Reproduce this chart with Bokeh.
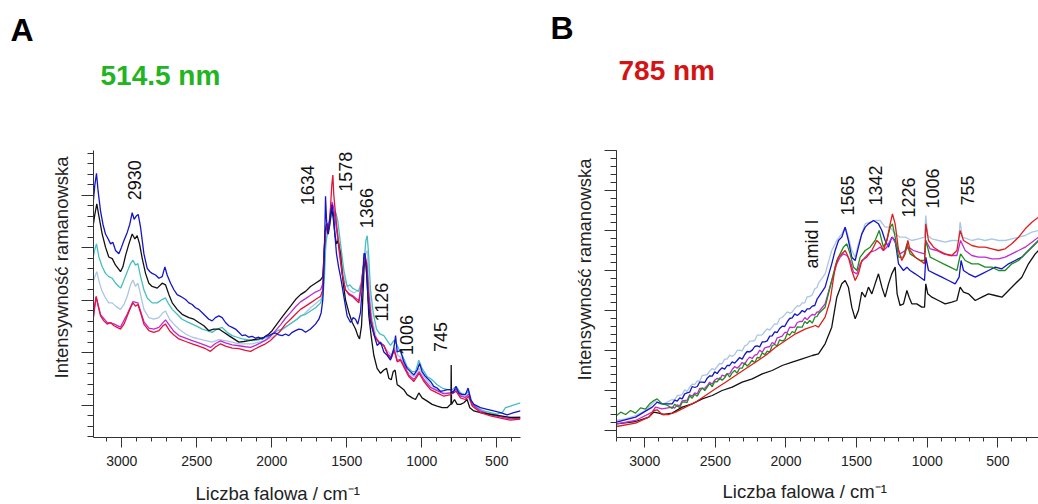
import math
from bokeh.plotting import figure
from bokeh.layouts import row, column
from bokeh.models import Range1d, FixedTicker, Label, Title
from bokeh.embed import file_html
from bokeh.resources import INLINE

FONT = "Liberation Sans"

# ---------------- Panel A (514.5 nm) ----------------
a_blue_wn = [3193,3180,3169,3158,3142,3126,3109,3091,3075,3060,3042,3020,3002,2986,2964,2947,2931,2918,2904,2891,2875,2853,2831,2813,2798,2775,2753,2731,2713,2698,2675,2653,2631,2609,2575,2553,2531,2509,2487,2464,2442,2420,2398,2376,2353,2331,2309,2287,2264,2242,2220,2198,2176,2153,2131,2109,2087,2064,2042,2020,1998,1975,1953,1931,1909,1887,1864,1842,1820,1798,1775,1742,1709,1686,1671,1660,1653,1646,1642,1635,1626,1618,1609,1598,1587,1578,1569,1555,1542,1520,1498,1475,1458,1442,1427,1409,1395,1386,1378,1369,1358,1342,1320,1298,1275,1253,1231,1209,1187,1175,1164,1142,1120,1098,1076,1053,1031,1015,998,975,942,920,898,876,853,831,809,791,773,753,731,709,691,675,653,609,564,520,475,431,387,342]
a_blue_int = [767,832,867,812,752,712,682,667,652,657,632,622,642,662,687,712,747,727,737,742,702,622,577,567,562,557,547,552,582,557,532,512,497,492,482,472,467,457,452,442,432,422,417,427,432,427,412,402,397,392,382,372,374,367,370,364,367,362,370,372,377,380,374,372,377,372,382,387,392,390,382,392,407,422,442,482,572,702,797,722,682,712,742,772,732,672,622,582,552,492,432,412,427,422,407,442,532,622,622,572,482,412,377,342,352,322,312,297,332,372,322,327,292,272,262,252,267,287,262,247,232,217,212,202,204,207,207,197,217,197,192,192,212,177,162,152,147,142,137,130,137,142]

a_black_wn = [3193,3180,3167,3153,3131,3109,3087,3064,3042,3020,3009,2993,2975,2953,2931,2913,2898,2882,2864,2842,2820,2798,2764,2731,2709,2686,2664,2631,2598,2553,2520,2487,2453,2420,2387,2353,2320,2287,2253,2220,2187,2153,2120,2087,2053,2020,1998,1975,1942,1909,1875,1842,1809,1775,1742,1709,1675,1660,1651,1644,1635,1624,1613,1602,1591,1580,1569,1558,1542,1524,1509,1486,1464,1442,1427,1415,1402,1391,1382,1373,1364,1353,1338,1320,1298,1275,1253,1235,1220,1204,1191,1178,1164,1147,1120,1098,1064,1042,1020,998,964,931,898,864,831,809,806,804,802,782,764,742,720,698,680,653,609,542,475,409,342]
a_black_int = [702,742,774,737,682,642,612,607,587,574,567,582,617,652,682,667,677,652,607,562,532,522,517,532,527,497,472,452,437,427,422,412,402,387,392,392,382,372,362,352,354,357,360,362,367,377,387,402,422,442,462,482,497,507,522,532,542,552,622,692,712,682,712,762,732,682,652,662,622,532,482,442,412,392,372,362,402,512,612,592,532,432,372,312,272,257,267,272,242,237,262,267,222,217,207,192,182,177,197,182,172,162,157,152,152,162,162,282,162,177,162,162,167,177,152,142,137,132,127,122,122]

a_teal_wn = [3193,3182,3169,3153,3131,3109,3087,3064,3042,3020,3007,2986,2964,2942,2926,2909,2893,2875,2853,2831,2798,2764,2731,2709,2686,2664,2631,2598,2564,2531,2498,2464,2431,2398,2364,2331,2298,2264,2231,2198,2164,2131,2098,2064,2031,1998,1964,1931,1898,1864,1831,1809,1775,1742,1709,1675,1658,1649,1640,1626,1613,1598,1587,1573,1560,1542,1520,1498,1480,1462,1442,1420,1404,1386,1373,1364,1355,1342,1324,1302,1280,1253,1231,1209,1187,1169,1149,1120,1098,1064,1042,1020,998,964,931,898,864,831,798,771,742,709,687,664,631,587,542,498,464,442,409,375,342]
a_teal_int = [607,632,652,612,582,562,552,547,532,522,517,542,567,592,602,587,592,552,512,487,472,472,482,487,467,452,437,422,414,407,400,392,387,382,392,397,382,372,367,362,360,357,358,362,367,377,387,392,402,412,422,432,437,447,457,472,497,552,652,692,722,752,737,747,722,652,572,522,527,517,512,507,532,592,662,677,622,512,442,392,377,372,357,342,357,347,327,302,277,262,262,297,272,247,237,222,212,207,207,217,197,192,202,167,152,142,137,132,137,152,157,162,167]

a_lblue_wn = [3193,3180,3167,3149,3131,3109,3087,3064,3042,3009,2986,2964,2942,2926,2909,2893,2875,2853,2820,2787,2753,2726,2709,2682,2653,2620,2575,2531,2487,2442,2398,2353,2309,2264,2220,2176,2131,2087,2042,1998,1953,1909,1864,1820,1787,1742,1675,1658,1647,1631,1609,1593,1578,1560,1538,1515,1486,1453,1420,1398,1375,1364,1351,1331,1302,1264,1231,1204,1182,1160,1131,1098,1053,1018,986,942,898,853,809,771,742,698,664,609,542,475,409,342]
a_lblue_int = [532,552,567,532,507,487,472,472,462,452,467,492,527,542,522,532,497,452,427,422,427,442,447,422,407,392,377,367,362,357,352,360,357,352,347,347,347,352,357,367,382,397,412,427,437,457,482,502,622,692,722,752,722,682,602,542,512,502,512,542,622,632,522,422,362,347,327,312,337,312,302,262,247,272,247,222,207,197,197,207,187,187,162,142,132,127,122,124]

a_mag_wn = [3193,3171,3142,3098,3053,3009,2964,2926,2893,2853,2820,2787,2753,2709,2653,2620,2575,2531,2487,2442,2409,2376,2342,2309,2264,2220,2176,2142,2109,2075,2042,2009,1975,1942,1909,1875,1842,1809,1775,1742,1709,1675,1660,1651,1642,1631,1620,1609,1598,1587,1575,1564,1549,1531,1509,1486,1464,1442,1420,1404,1391,1378,1367,1355,1338,1315,1286,1253,1226,1204,1184,1164,1142,1115,1087,1053,1018,986,942,898,853,809,771,742,709,687,664,609,542,475,409,342]
a_mag_int = [418,490,436,412,408,398,438,476,472,415,395,392,397,420,385,372,364,357,350,342,336,348,356,350,344,341,338,336,342,350,358,370,387,405,425,442,460,475,485,495,505,512,530,640,690,715,705,745,780,760,720,680,620,560,512,500,495,487,478,522,575,600,585,500,420,370,350,342,315,306,330,296,300,278,252,238,262,238,214,204,194,197,208,188,183,194,162,142,130,124,118,120]

a_red_wn = [3193,3182,3171,3158,3142,3120,3098,3075,3053,3031,3009,2986,2964,2942,2926,2909,2893,2875,2853,2820,2787,2753,2726,2709,2682,2653,2620,2575,2531,2487,2442,2409,2376,2342,2309,2264,2220,2176,2142,2109,2075,2042,2009,1975,1942,1909,1875,1842,1809,1775,1742,1709,1675,1660,1651,1642,1631,1620,1609,1600,1593,1587,1575,1564,1549,1531,1509,1486,1464,1442,1420,1404,1391,1378,1367,1355,1338,1315,1286,1253,1226,1204,1184,1164,1142,1115,1087,1053,1018,986,942,898,853,809,771,742,709,687,664,609,542,475,409,342]
a_red_int = [412,462,492,462,432,417,407,412,402,397,392,407,432,457,472,462,467,442,407,387,382,387,402,407,387,374,362,354,347,340,332,324,337,347,340,334,332,327,324,332,340,347,357,372,387,407,422,437,452,462,472,482,492,512,622,682,712,702,762,832,862,802,742,692,632,562,512,497,492,482,472,522,582,612,592,502,422,372,352,342,312,302,327,292,297,272,247,232,257,232,207,197,187,192,202,182,177,187,157,137,127,120,114,117]

a_peak_text = ["2930", "1634", "1578", "1366", "1126", "1006", "745"]
a_peak_wn = [2915, 1759, 1512, 1369, 1272, 1102, 875]
a_peak_int = [785, 770, 811, 700, 415, 313, 322]

# ---------------- Panel B (785 nm) ----------------
# shared wavenumbers of the noisy rising part (2806 -> 1770 cm-1)
b_mid_wn = [2806,2788,2770,2752,2735,2717,2700,2682,2664,2646,2628,2611,2593,2575,2558,2540,2522,2505,2487,2470,2452,2434,2417,2399,2381,2363,2346,2328,2310,2292,2275,2257,2239,2221,2204,2186,2168,2150,2133,2115,2098,2080,2062,2045,2027,2009,1991,1974,1956,1938,1920,1903,1885,1867,1850,1832,1814,1796,1780,1770]

b_lblue_head_wn = [3200,3136,3065,2995,2947,2924,2900,2865]
b_lblue_head_int = [150,155,165,180,200,210,200,200]
b_lblue_mid_int = [213,211,225,225,228,242,237,250,259,258,269,268,285,286,288,298,306,302,312,321,320,334,334,346,342,348,360,361,359,374,377,388,388,390,406,406,407,417,425,421,430,440,439,456,459,467,476,472,475,486,494,493,503,503,521,522,527,545,549,562]
b_lblue_tail_wn = [1723,1676,1640,1605,1581,1558,1534,1510,1487,1463,1439,1404,1369,1333,1298,1262,1227,1192,1156,1109,1062,1019,1010,996,967,920,873,826,778,767,750,684,637,590,542,495,448,401,353,306,259,212]
b_lblue_tail_int = [590,660,690,710,730,700,660,640,680,710,740,745,750,750,730,730,710,700,700,690,695,700,765,705,695,690,685,690,690,745,700,690,695,690,695,690,690,695,700,705,715,720]

b_blue_head_wn = [3200,3065,2947,2912,2877]
b_blue_head_int = [145,160,190,205,200]
b_blue_mid_int = [200,211,208,218,215,230,233,235,252,249,252,265,265,264,277,284,283,296,291,301,308,304,315,315,326,322,330,339,334,348,357,356,361,372,374,371,386,386,389,403,404,416,414,426,433,432,446,456,458,470,465,471,480,475,485,485,493,495,514,520]
b_blue_tail_wn = [1723,1676,1652,1628,1605,1581,1558,1534,1510,1487,1463,1439,1416,1380,1345,1321,1298,1274,1251,1227,1203,1168,1144,1121,1085,1050,1019,1010,991,944,896,849,802,774,760,743,708,660,613,566,519,471,424,377,330,283,235,212]
b_blue_tail_int = [550,620,660,690,700,730,690,640,630,670,710,730,740,750,740,720,690,670,700,690,620,600,610,600,590,580,570,640,600,590,580,570,560,580,630,600,590,580,590,600,610,605,620,630,640,660,680,690]

b_green_head_wn = [3200,3170,3136,3100,3065,3030,2995,2965,2936,2912,2877,2840]
b_green_head_int = [165,175,168,180,172,188,184,200,210,215,200,196]
b_green_mid_int = [186,199,193,189,205,206,204,224,217,229,223,237,248,240,250,261,251,267,266,278,271,278,291,280,293,300,292,307,307,323,313,321,331,323,339,338,353,347,358,355,375,378,374,392,389,392,411,406,417,413,431,430,430,447,441,450,442,460,462,470]
b_green_tail_wn = [1723,1676,1640,1617,1593,1569,1546,1522,1498,1475,1439,1404,1369,1340,1310,1286,1262,1246,1227,1203,1168,1144,1121,1085,1050,1019,1010,979,932,885,837,790,764,731,684,637,590,542,495,448,401,353,306,259,212]
b_green_tail_int = [490,570,630,650,670,680,650,610,600,640,660,670,690,720,670,690,730,740,700,640,640,680,650,640,630,630,690,640,630,620,610,600,650,630,620,620,610,610,600,600,620,630,650,670,690]

b_mag_head_wn = [3200,3065,2947,2924,2877]
b_mag_head_int = [140,150,175,190,185]
b_mag_mid_int = [190,187,197,194,209,210,211,227,223,233,230,246,246,247,254,265,259,271,277,272,286,283,290,290,303,312,307,314,324,319,332,340,336,346,348,361,355,368,370,372,384,380,398,400,403,414,414,430,429,430,444,447,447,459,452,462,468,466,476,475]
b_mag_tail_wn = [1723,1676,1640,1617,1593,1569,1546,1522,1498,1475,1439,1404,1369,1333,1310,1286,1262,1246,1222,1192,1156,1133,1097,1062,1019,1010,979,932,885,837,790,764,731,684,637,590,542,495,448,401,353,306,259,212]
b_mag_tail_int = [500,570,620,640,650,645,630,595,590,620,640,655,660,670,660,670,690,700,680,650,660,670,660,655,650,690,665,660,650,645,645,690,660,645,640,640,635,635,640,650,660,670,685,700]

b_red_wn = [3200,3065,2971,2936,2912,2877,2829,2782,2711,2641,2570,2499,2428,2357,2286,2216,2145,2074,2003,1932,1861,1791,1770,1723,1687,1652,1628,1605,1581,1558,1534,1510,1487,1463,1428,1392,1357,1333,1310,1286,1262,1246,1227,1203,1180,1156,1137,1121,1085,1050,1019,1010,991,955,920,873,826,790,767,743,684,637,590,542,495,448,401,353,306,259,212]
b_red_int = [132,142,160,180,182,168,168,175,190,205,225,245,265,285,305,325,345,370,390,410,425,435,430,460,510,610,640,650,660,640,600,570,590,630,640,660,690,680,660,690,740,770,740,660,630,650,690,660,640,630,620,740,690,670,660,650,645,660,720,690,675,670,670,665,660,665,680,700,725,745,760]

b_black_wn = [3200,3065,2971,2936,2900,2865,2806,2735,2664,2593,2522,2452,2381,2310,2239,2168,2098,2027,1956,1885,1814,1770,1723,1676,1640,1605,1581,1558,1534,1510,1487,1463,1439,1416,1392,1369,1345,1321,1298,1274,1251,1227,1213,1192,1168,1144,1128,1109,1074,1038,1019,1010,996,967,920,873,826,790,767,743,708,660,613,566,519,471,424,377,330,283,235,212]
b_black_int = [140,147,160,175,172,168,172,190,200,215,225,240,250,265,275,290,300,315,325,335,345,350,380,430,520,560,570,550,490,455,480,535,520,550,530,560,590,550,520,560,590,610,530,495,500,540,520,500,500,490,490,560,530,520,510,500,505,510,550,535,530,510,520,530,525,520,540,560,580,620,650,660]

b_peak_text = ["amid I", "1565", "1342", "1226", "1006", "755"]
b_peak_wn = [1816, 1564, 1363, 1132, 966, 718]
b_peak_int = [606, 765, 795, 759, 786, 795]

a_series = [
    (a_lblue_wn, a_lblue_int, "#a9c6e6"),
    (a_teal_wn, a_teal_int, "#45bfbf"),
    (a_mag_wn, a_mag_int, "#c02ad0"),
    (a_black_wn, a_black_int, "#111111"),
    (a_red_wn, a_red_int, "#e0143c"),
    (a_blue_wn, a_blue_int, "#1414c8"),
]
b_series = [
    (b_black_wn, b_black_int, "#111111"),
    (b_lblue_head_wn + b_mid_wn + b_lblue_tail_wn,
     b_lblue_head_int + b_lblue_mid_int + b_lblue_tail_int, "#a9c6e6"),
    (b_blue_head_wn + b_mid_wn + b_blue_tail_wn,
     b_blue_head_int + b_blue_mid_int + b_blue_tail_int, "#1414c8"),
    (b_mag_head_wn + b_mid_wn + b_mag_tail_wn,
     b_mag_head_int + b_mag_mid_int + b_mag_tail_int, "#c02ad0"),
    (b_green_head_wn + b_mid_wn + b_green_tail_wn,
     b_green_head_int + b_green_mid_int + b_green_tail_int, "#1e8c1e"),
    (b_red_wn, b_red_int, "#e01c1c"),
]

HEADER_H = 100
FOOTER_H = 30
PLOT_H = 504 - HEADER_H - FOOTER_H    # plot row spans page rows 100..474
FRAME_BOTTOM = 437 - HEADER_H           # frame bottom inside the plot row


def make_panel(width, left, right, top, xr, yr, y_major, y_minor, series,
               peak_text, peak_wn, peak_int, ylab_off):
    p = figure(width=width, height=PLOT_H, output_backend="svg", toolbar_location=None,
               x_range=Range1d(*xr), y_range=Range1d(*yr), title=None,
               min_border_left=left, min_border_right=right, min_border_top=top,
               min_border_bottom=PLOT_H - FRAME_BOTTOM)
    p.outline_line_color = None
    p.grid.visible = False
    p.background_fill_color = "white"
    p.border_fill_color = "white"

    p.xaxis.ticker = FixedTicker(ticks=[500, 1000, 1500, 2000, 2500, 3000],
                                 minor_ticks=list(range(300, 3300, 100)))
    p.xaxis.major_tick_out = 10
    p.xaxis.major_tick_in = 0
    p.xaxis.minor_tick_out = 4
    p.xaxis.minor_tick_in = 0
    p.xaxis.major_label_standoff = 8
    p.xaxis.major_label_text_font = FONT
    p.xaxis.major_label_text_font_size = "14px"
    p.xaxis.major_label_text_color = "#222222"

    p.yaxis.ticker = FixedTicker(ticks=y_major, minor_ticks=y_minor)
    p.yaxis.major_label_overrides = {t: "" for t in y_major}
    p.yaxis.major_tick_out = 12
    p.yaxis.major_tick_in = 0
    p.yaxis.minor_tick_out = 6
    p.yaxis.minor_tick_in = 0
    p.yaxis.major_label_standoff = 0

    for ax in (p.xaxis, p.yaxis):
        ax.axis_line_color = "#333333"
        ax.major_tick_line_color = "#333333"
        ax.minor_tick_line_color = "#333333"

    for xs, ys, c in series:
        p.line(xs, ys, line_color=c, line_width=1.3)

    for t, x, y in zip(peak_text, peak_wn, peak_int):
        p.add_layout(Label(x=x, y=y, text=t, angle=math.pi / 2, text_align="left",
                           text_baseline="middle", text_font=FONT,
                           text_font_size="18px", text_color="#111111"))

    p.add_layout(Title(text="Intensywność ramanowska", align="left", offset=ylab_off,
                       standoff=19, text_font=FONT, text_font_size="18.5px",
                       text_font_style="normal", text_color="#222222"), "left")
    return p


pA = make_panel(522, 93, 2, 145 - HEADER_H, (3189, 342), (61, 937),
                [160, 320, 480, 640, 800], list(range(64, 937, 32)),
                a_series, a_peak_text, a_peak_wn, a_peak_int, 59)
pB = make_panel(516, 94, 0, 150 - HEADER_H, (3200, 212), (99, 960),
                [120, 240, 360, 480, 600, 720, 840, 960], list(range(120, 961, 24)),
                b_series, b_peak_text, b_peak_wn, b_peak_int, 57)


def text_strip(height):
    s = figure(width=1038, height=height, output_backend="svg", toolbar_location=None,
               x_range=Range1d(0, 1038), y_range=Range1d(height, 0), title=None,
               x_axis_type=None, y_axis_type=None, min_border=0)
    s.outline_line_color = None
    s.grid.visible = False
    s.background_fill_color = "white"
    s.border_fill_color = "white"
    return s


def strip_label(x, y, text, size, color, bold=False):
    # y is the bottom of the text box, in pixels from the strip's top edge
    return Label(x=x, y=y, text=text, text_font=FONT, text_font_size=size,
                 text_font_style="bold" if bold else "normal", text_color=color)


header = text_strip(HEADER_H)
header.add_layout(strip_label(10, 47, "A", "32px", "black", True))
header.add_layout(strip_label(100, 90, "514.5 nm", "28px", "#22b422", True))
header.add_layout(strip_label(550, 45.5, "B", "32px", "black", True))
header.add_layout(strip_label(618, 85, "785 nm", "28px", "#d41414", True))

footer = text_strip(FOOTER_H)
footer.add_layout(strip_label(195, 29.5, "Liczba falowa / cm⁻¹", "18.5px", "#222222"))
footer.add_layout(strip_label(722, 27, "Liczba falowa / cm⁻¹", "18.5px", "#222222"))

layout = column(header, row(pA, pB), footer)
open("out.html", "w").write(file_html(layout, INLINE))
